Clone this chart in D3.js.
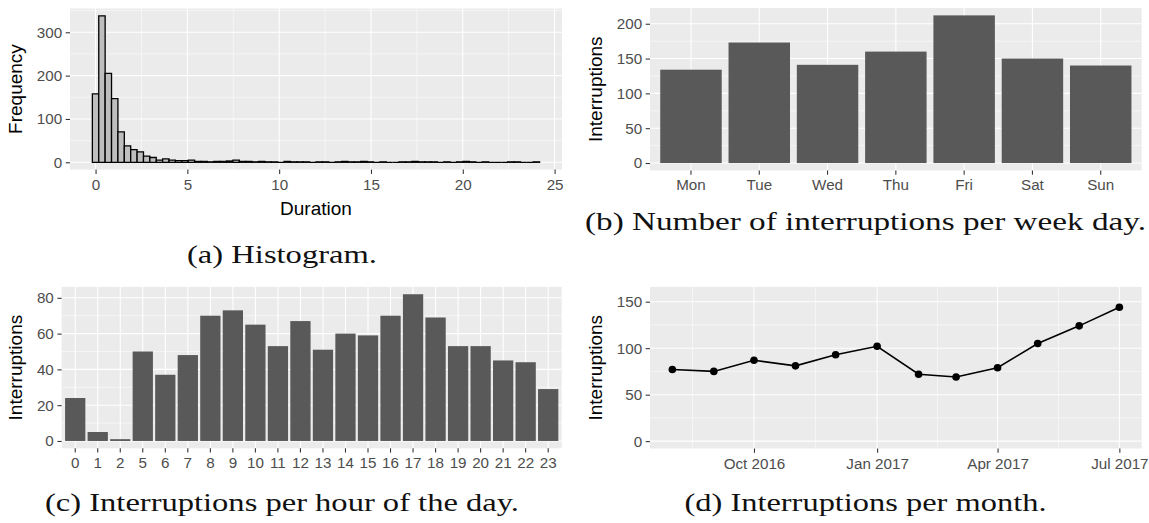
<!DOCTYPE html>
<html>
<head>
<meta charset="utf-8">
<script src="https://cdn.jsdelivr.net/npm/d3@7"></script>
<style>
  html, body { margin: 0; padding: 0; background: #fff; }
  svg { display: block; }
  .tick text { font-family: "Liberation Sans", Arial, sans-serif; font-size: 15.2px; fill: #4D4D4D; }
  .tick line { stroke: #333333; stroke-width: 1.07; }
  .axis-title { font-family: "Liberation Sans", Arial, sans-serif; font-size: 19px; fill: #000; }
  .caption { font-family: "Liberation Serif", "DejaVu Serif", serif; font-size: 25px; fill: #111; }
</style>
</head>
<body>
<svg id="fig" width="1149" height="523"></svg>
<script>
// ---- data ----
// (a) histogram of interruption durations (hours): counts per bin
const histFirstCenter = 0;
const histBinWidth = 0.348;
const histCounts = [158, 338, 205, 147, 70, 38, 29, 24, 14, 11,
                    5, 8, 5, 4, 4, 5, 2, 2, 1, 2,
                    2, 3, 5, 2, 2, 1, 2, 1, 1, 0,
                    2, 1, 1, 1, 0, 1, 1, 0, 1, 2,
                    1, 1, 2, 1, 0, 1, 0, 0, 1, 1,
                    2, 1, 1, 1, 0, 1, 0, 1, 2, 1,
                    0, 1, 0, 0, 0, 1, 1, 0, 0, 1];
const histXTicks = [0, 5, 10, 15, 20, 25];
const histYTicks = [0, 100, 200, 300];

// (b) interruptions per week day
const weekDays = ["Mon", "Tue", "Wed", "Thu", "Fri", "Sat", "Sun"];
const weekDayCounts = [134, 173, 141, 160, 212, 150, 140];
const weekYTicks = [0, 50, 100, 150, 200];

// (c) interruptions per hour of the day (no interruptions at 3 and 4)
const hours = ["0", "1", "2", "5", "6", "7", "8", "9", "10", "11", "12", "13",
               "14", "15", "16", "17", "18", "19", "20", "21", "22", "23"];
const hourCounts = [24, 5, 1, 50, 37, 48, 70, 73, 65, 53, 67, 51,
                    60, 59, 70, 82, 69, 53, 53, 45, 44, 29];
const hourYTicks = [0, 20, 40, 60, 80];

// (d) interruptions per month
const months = ["2016-08-01", "2016-09-01", "2016-10-01", "2016-11-01", "2016-12-01", "2017-01-01",
                "2017-02-01", "2017-03-01", "2017-04-01", "2017-05-01", "2017-06-01", "2017-07-01"];
const monthCounts = [77, 75, 87, 81, 93, 102, 72, 69, 79, 105, 124, 144];
const monthXTicks = ["2016-10-01", "2017-01-01", "2017-04-01", "2017-07-01"];
const monthTickLabels = ["Oct 2016", "Jan 2017", "Apr 2017", "Jul 2017"];
const monthYTicks = [0, 50, 100, 150];
const monthYMax = 158;

const captions = ["(a) Histogram.", "(b) Number of interruptions per week day.",
                  "(c) Interruptions per hour of the day.", "(d) Interruptions per month."];

// ---- helpers ----
const svg = d3.select("#fig");
const PANEL_BG = "#EBEBEB";
const TICK = 4.3;

function expand(lo, hi, f = 0.05) { const e = (hi - lo) * f; return [lo - e, hi + e]; }
function mids(arr) { const m = []; for (let i = 0; i < arr.length - 1; i++) m.push((arr[i] + arr[i + 1]) / 2); return m; }

function panel(box) {
  const g = svg.append("g");
  g.append("rect").attr("x", box.x0).attr("y", box.y0)
    .attr("width", box.x1 - box.x0).attr("height", box.y1 - box.y0).attr("fill", PANEL_BG);
  return g;
}
function hGrid(g, box, y, vals, w) {
  g.selectAll(null).data(vals.filter(v => y(v) >= box.y0 && y(v) <= box.y1)).join("line")
    .attr("x1", box.x0).attr("x2", box.x1).attr("y1", d => y(d)).attr("y2", d => y(d))
    .attr("stroke", "#fff").attr("stroke-width", w);
}
function vGrid(g, box, xs, w) {
  g.selectAll(null).data(xs.filter(v => v >= box.x0 && v <= box.x1)).join("line")
    .attr("y1", box.y0).attr("y2", box.y1).attr("x1", d => d).attr("x2", d => d)
    .attr("stroke", "#fff").attr("stroke-width", w);
}
function leftAxis(box, y, ticks) {
  svg.append("g").attr("transform", `translate(${box.x0},0)`)
    .call(d3.axisLeft(y).tickValues(ticks).tickSize(TICK).tickPadding(3.6).tickFormat(d3.format("d")))
    .call(a => a.select(".domain").remove())
    .call(a => a.selectAll("text").attr("font-family", null).attr("font-size", null));
}
function bottomAxis(box, x, ticks, fmt) {
  const ax = d3.axisBottom(x).tickSize(TICK).tickPadding(5);
  if (ticks) ax.tickValues(ticks);
  if (fmt) ax.tickFormat(fmt);
  svg.append("g").attr("transform", `translate(0,${box.y1})`)
    .call(ax)
    .call(a => a.select(".domain").remove())
    .call(a => a.selectAll("text").attr("font-family", null).attr("font-size", null));
}
function yTitle(xBase, box, text) {
  const cy = (box.y0 + box.y1) / 2;
  svg.append("text").attr("class", "axis-title")
    .attr("transform", `translate(${xBase},${cy}) rotate(-90)`)
    .attr("text-anchor", "middle").text(text);
}
function caption(cx, baseline, text, width) {
  svg.append("text").attr("class", "caption")
    .attr("x", cx - width / 2).attr("y", baseline)
    .attr("textLength", width).attr("lengthAdjust", "spacingAndGlyphs")
    .text(text);
}

svg.append("rect").attr("width", 1149).attr("height", 523).attr("fill", "#fff");

// ---- (a) histogram ----
{
  const box = { x0: 70, x1: 562, y0: 8.5, y1: 169.6 };
  const centers = histCounts.map((_, i) => histFirstCenter + i * histBinWidth);
  const x = d3.scaleLinear()
    .domain(expand(centers[0] - histBinWidth / 2, centers[centers.length - 1] + histBinWidth / 2))
    .range([box.x0, box.x1]);
  const y = d3.scaleLinear().domain(expand(0, d3.max(histCounts))).range([box.y1, box.y0]);
  const g = panel(box);
  hGrid(g, box, y, mids(histYTicks).concat([histYTicks[histYTicks.length - 1] + 50]), 0.53);
  vGrid(g, box, mids(histXTicks).map(x), 0.53);
  hGrid(g, box, y, histYTicks, 1.07);
  vGrid(g, box, histXTicks.map(x), 1.07);
  // bars drawn as closed paths so that empty bins still show their outline on the baseline
  g.selectAll(null).data(histCounts).join("path")
    .attr("d", (d, i) => {
      const xa = x(centers[i] - histBinWidth / 2), xb = x(centers[i] + histBinWidth / 2);
      return `M${xa},${y(0)}V${y(d)}H${xb}V${y(0)}Z`;
    })
    .attr("fill", "#BEBEBE").attr("stroke", "#000").attr("stroke-width", 1.3)
    .attr("stroke-linejoin", "miter");
  leftAxis(box, y, histYTicks);
  bottomAxis(box, x, histXTicks, d3.format("d"));
  yTitle(22, box, "Frequency");
  svg.append("text").attr("class", "axis-title").attr("x", (box.x0 + box.x1) / 2).attr("y", 215)
    .attr("text-anchor", "middle").text("Duration");
}

// ---- (b) week days ----
{
  const box = { x0: 650, x1: 1141.7, y0: 8, y1: 170.4 };
  const x = d3.scaleBand().domain(weekDays).range([box.x0, box.x1]).paddingInner(0.1).paddingOuter(0.15);
  const y = d3.scaleLinear().domain(expand(0, d3.max(weekDayCounts))).range([box.y1, box.y0]);
  const g = panel(box);
  hGrid(g, box, y, mids(weekYTicks), 0.53);
  hGrid(g, box, y, weekYTicks, 1.07);
  vGrid(g, box, weekDays.map(d => x(d) + x.bandwidth() / 2), 1.07);
  g.selectAll(null).data(weekDayCounts).join("rect")
    .attr("x", (d, i) => x(weekDays[i])).attr("width", x.bandwidth())
    .attr("y", d => y(d)).attr("height", d => y(0) - y(d)).attr("fill", "#595959");
  leftAxis(box, y, weekYTicks);
  bottomAxis(box, x);
  yTitle(602, box, "Interruptions");
}

// ---- (c) hours ----
{
  const box = { x0: 61.7, x1: 561.7, y0: 286.9, y1: 448.3 };
  const x = d3.scaleBand().domain(hours).range([box.x0, box.x1]).paddingInner(0.1).paddingOuter(0.15);
  const y = d3.scaleLinear().domain(expand(0, d3.max(hourCounts))).range([box.y1, box.y0]);
  const g = panel(box);
  hGrid(g, box, y, mids(hourYTicks), 0.53);
  hGrid(g, box, y, hourYTicks, 1.07);
  vGrid(g, box, hours.map(d => x(d) + x.bandwidth() / 2), 1.07);
  g.selectAll(null).data(hourCounts).join("rect")
    .attr("x", (d, i) => x(hours[i])).attr("width", x.bandwidth())
    .attr("y", d => y(d)).attr("height", d => y(0) - y(d)).attr("fill", "#595959");
  leftAxis(box, y, hourYTicks);
  bottomAxis(box, x);
  yTitle(22, box, "Interruptions");
}

// ---- (d) months ----
{
  const box = { x0: 650, x1: 1141.7, y0: 286.9, y1: 448.5 };
  const parse = d3.utcParse("%Y-%m-%d");
  const dates = months.map(parse);
  const span = dates[dates.length - 1] - dates[0];
  const x = d3.scaleUtc()
    .domain([new Date(+dates[0] - span * 0.05), new Date(+dates[dates.length - 1] + span * 0.05)])
    .range([box.x0, box.x1]);
  const y = d3.scaleLinear().domain(expand(0, monthYMax)).range([box.y1, box.y0]);
  const majors = monthXTicks.map(parse);
  const majorsExt = [parse("2016-07-01")].concat(majors, [parse("2017-10-01")]);
  const minorX = mids(majorsExt.map(d => +d)).map(v => x(new Date(v)));
  const g = panel(box);
  hGrid(g, box, y, mids(monthYTicks), 0.53);
  vGrid(g, box, minorX, 0.53);
  hGrid(g, box, y, monthYTicks, 1.07);
  vGrid(g, box, majors.map(x), 1.07);
  const line = d3.line().x((d, i) => x(dates[i])).y(d => y(d));
  g.append("path").datum(monthCounts).attr("d", line)
    .attr("fill", "none").attr("stroke", "#000").attr("stroke-width", 1.6);
  g.selectAll(null).data(monthCounts).join("circle")
    .attr("cx", (d, i) => x(dates[i])).attr("cy", d => y(d)).attr("r", 3.8).attr("fill", "#000");
  leftAxis(box, y, monthYTicks);
  bottomAxis(box, x, majors, (d, i) => monthTickLabels[i]);
  yTitle(602, box, "Interruptions");
}

// ---- captions ----
caption(282, 263, captions[0], 190);
caption(865.5, 230, captions[1], 561);
caption(282, 510.5, captions[2], 474);
caption(865.5, 510.5, captions[3], 362);
</script>
</body>
</html>
